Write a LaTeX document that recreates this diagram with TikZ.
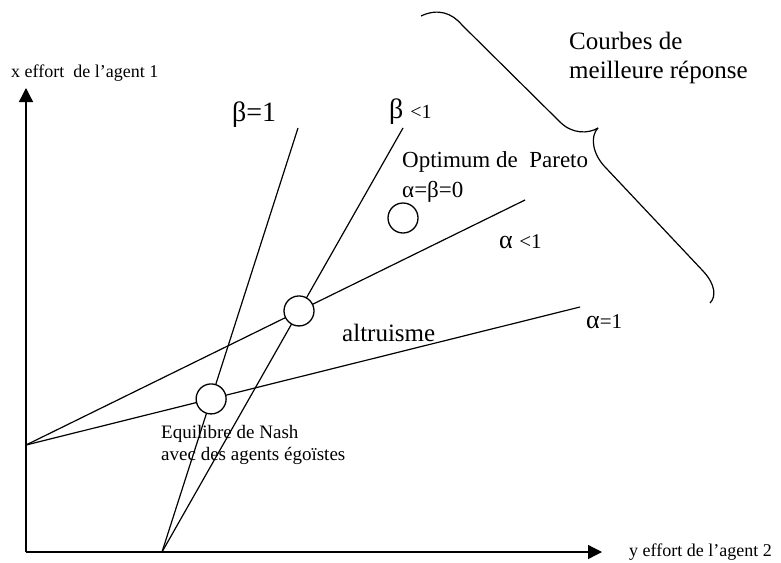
\documentclass[tikz,border=0pt]{standalone}
\usepackage{fontspec}
\setmainfont{Liberation Serif}
\usetikzlibrary{arrows.meta}

\begin{document}
\begin{tikzpicture}[x=1pt, y=-1pt,
  axis/.style={line width=1.3pt, -{Triangle[length=14pt,width=14pt]}},
  curve/.style={line width=1.2pt},
  eq/.style={circle, draw, line width=1.3pt, fill=white, minimum size=30pt, inner sep=0pt},
  txt/.style={anchor=west, inner sep=0pt, align=left},
]
\useasboundingbox (0,0) rectangle (781,562);

% axes
\coordinate (O) at (26,552);
\coordinate (ytip) at (26,88);
\coordinate (xtip) at (602,552);
\draw[axis] (O) -- (ytip);
\draw[axis] (O) -- (xtip);
\node[txt, font=\fontsize{18}{20}\selectfont] (xlab) at (11,73) {x effort\ \ de l'agent 1};
\node[txt, font=\fontsize{18}{20}\selectfont] (ylab) at (629,552) {y effort de l'agent 2};

% best response curves
\coordinate (L) at (26,445);
\coordinate (B) at (162,552);
\coordinate (b1) at (298,128);
\coordinate (b2) at (403,128);
\coordinate (a1) at (580,307);
\coordinate (a2) at (525,200);
\draw[curve] (B) -- (b1);
\draw[curve] (B) -- (b2);
\draw[curve] (L) -- (a1);
\draw[curve] (L) -- (a2);

\node[eq] (nash) at (intersection of B--b1 and L--a1) {};
\node[eq] (altr) at (intersection of B--b2 and L--a2) {};
\node[eq] (opt) at (403,218) {};

\node[txt] (b1lab) at (232,115) {\fontsize{28}{30}\selectfont β=1};
\node[txt] (b2lab) at (389,112) {\fontsize{28}{30}\selectfont β \fontsize{20}{22}\selectfont<1};
\node[txt] (a2lab) at (499,242) {\fontsize{26}{28}\selectfont α \fontsize{21}{22}\selectfont<1};
\node[txt] (a1lab) at (586,322) {\fontsize{26}{28}\selectfont α\fontsize{21}{22}\selectfont=1};
\node[txt, font=\fontsize{23}{30}\selectfont] (optlab) at (402,177) {Optimum de\ \ Pareto\\α=β=0};
\node[txt, font=\fontsize{25}{28}\selectfont] (altlab) at (342,333) {altruisme};
\node[txt, font=\fontsize{19}{22}\selectfont] (nashlab) at (161,445) {Equilibre de Nash\\avec des agents égoïstes};

% brace
\draw[curve] (421,16) .. controls (438,8) and (452,13) .. (462,25) -- (560,122)
  .. controls (572,134) and (588,134) .. (598,128);
\draw[curve] (598,128) .. controls (590,136) and (592,154) .. (606,168) -- (703,271)
  .. controls (716,285) and (716,297) .. (710,303);
\node[txt, font=\fontsize{25}{29}\selectfont] (courbes) at (569,58) {Courbes de\\meilleure réponse};
\end{tikzpicture}
\end{document}
